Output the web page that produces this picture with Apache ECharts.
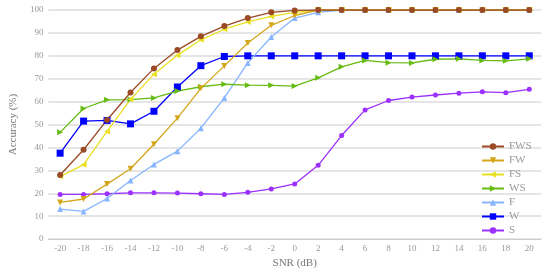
<!doctype html>
<html lang="en">
<head>
    <meta charset="UTF-8">
    <title>Accuracy vs SNR</title>
    <script src="https://cdn.jsdelivr.net/npm/echarts@6/dist/echarts.min.js"></script>
    <style>
        html, body { margin: 0; padding: 0; background: #fff; }
    </style>
</head>
<body>
<div id="main" style="width:550px; height:274px;"></div>

<script>
    // x axis categories (SNR in dB)
    var snr = ['-20', '-18', '-16', '-14', '-12', '-10', '-8', '-6', '-4', '-2', '0',
               '2', '4', '6', '8', '10', '12', '14', '16', '18', '20'];

    // accuracy (%) per scheme
    var fws = [28, 39, 52, 64, 74.5, 82.5, 88.5, 93, 96.5, 99, 99.8, 100, 100, 100, 100, 100, 100, 100, 100, 100, 100];
    var fw  = [16, 17.5, 24, 30.7, 41.4, 52.8, 65.8, 75.6, 85.6, 93.3, 97.6, 100, 100, 100, 100, 100, 100, 100, 100, 100, 100];
    var fs  = [27.3, 32.5, 47, 61, 72, 80.2, 87, 91.6, 94.8, 97.2, 99, 100, 100, 100, 100, 100, 100, 100, 100, 100, 100];
    var ws  = [46.6, 57, 60.8, 60.9, 61.6, 64.6, 66.5, 67.6, 67.2, 67.1, 66.8, 70.4, 75.2, 78, 77, 76.9, 78.5, 78.7, 78, 77.8, 78.7];
    var f   = [13.1, 12.1, 17.7, 25.6, 32.6, 38.4, 48.4, 61.6, 76.9, 88.2, 96.5, 99, 100, 100, 100, 100, 100, 100, 100, 100, 100];
    var w   = [37.5, 51.5, 51.8, 50.3, 55.8, 66.4, 75.7, 79.7, 80, 80, 80, 80, 80, 80, 80, 80, 80, 80, 80, 80, 80];
    var s   = [19.5, 19.5, 19.8, 20.2, 20.2, 20.1, 19.8, 19.5, 20.4, 21.9, 24.1, 32.2, 45.2, 56.4, 60.5, 62, 62.9, 63.7, 64.3, 63.9, 65.4];

    var font = '"Liberation Serif", "DejaVu Serif", serif';

    function mk(name, data, color, symbol, rotate, size) {
        return {
            name: name,
            type: 'line',
            data: data,
            symbol: symbol,
            symbolRotate: rotate,
            symbolSize: size,
            itemStyle: { color: color },
            lineStyle: { color: color, width: 1.3 },
            emphasis: { disabled: true }
        };
    }

    var myChart = echarts.init(document.getElementById('main'));
    myChart.setOption({
        animation: false,
        textStyle: { fontFamily: font },
        grid: { left: 30, right: 9, top: 10, bottom: 25, containLabel: false },
        legend: {
            orient: 'vertical',
            left: 479,
            top: 139,
            padding: 2,
            itemWidth: 22,
            itemHeight: 8,
            itemGap: 3,
            textStyle: { color: '#999', fontSize: 11, lineHeight: 8, fontFamily: font },
            data: ['FWS', 'FW', 'FS', 'WS', 'F', 'W', 'S']
        },
        xAxis: {
            type: 'category',
            data: snr,
            boundaryGap: true,
            name: 'SNR (dB)',
            nameLocation: 'middle',
            nameGap: 14,
            nameTextStyle: { color: '#777', fontSize: 11, fontFamily: font },
            axisLine: { lineStyle: { color: '#ccc', width: 1 } },
            axisTick: { show: false },
            axisLabel: { color: '#999', fontSize: 9, margin: 5, interval: 0 }
        },
        yAxis: {
            type: 'value',
            min: 0,
            max: 100,
            interval: 10,
            name: 'Accuracy (%)',
            nameLocation: 'middle',
            nameGap: 18,
            nameTextStyle: { color: '#777', fontSize: 11, fontFamily: font },
            axisLine: { show: false },
            axisTick: { show: false },
            axisLabel: { color: '#999', fontSize: 9, margin: 5 },
            splitLine: { lineStyle: { color: '#dcdcdc', width: 1.5 } }
        },
        series: [
            mk('S', s, '#9b30ff', 'circle', 0, 5),
            mk('W', w, '#0000ff', 'rect', 0, 7),
            mk('F', f, '#87b5ff', 'triangle', 0, 6),
            mk('WS', ws, '#66bb11', 'triangle', -90, 6),
            mk('FS', fs, '#e8e020', 'triangle', 90, 6),
            mk('FW', fw, '#d4a61a', 'triangle', 180, 6),
            mk('FWS', fws, '#9a4a25', 'circle', 0, 6)
        ]
    });
</script>
</body>
</html>
